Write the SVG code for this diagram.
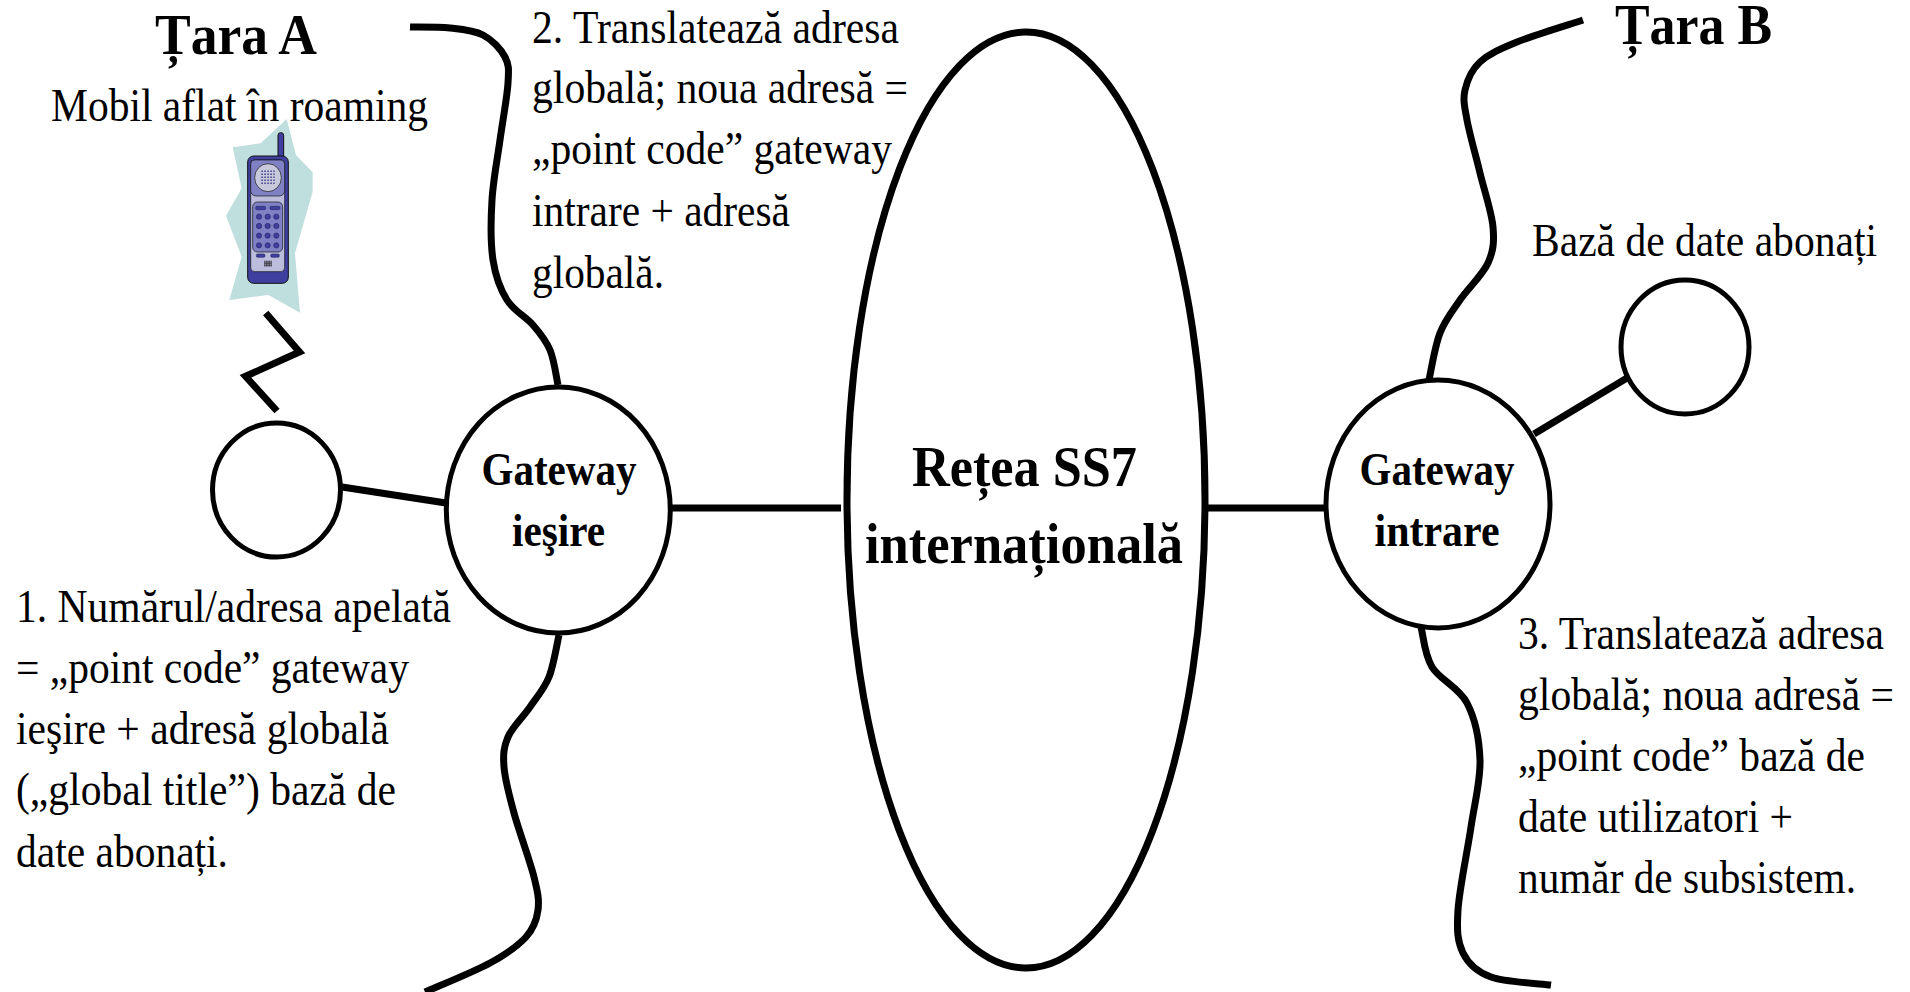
<svg xmlns="http://www.w3.org/2000/svg" width="1910" height="992" viewBox="0 0 1910 992">
<style>
text{font-family:"Liberation Serif","Times New Roman",serif;fill:#000}
.t{font-size:46px}
.h{font-size:58px;font-weight:bold}
.g{font-size:46px;font-weight:bold;text-anchor:middle}
.n{font-size:58px;font-weight:bold;text-anchor:middle}
.s{fill:#fff;stroke:#000;stroke-width:5}
.b{stroke-width:7}
.c{fill:none;stroke:#000;stroke-width:7}
.k{fill:#3f3f9f;stroke:#1a1a50;stroke-width:1.5}
</style>
<rect width="1910" height="992" fill="#fff"/>
<g id="connectors">
<path class="c" d="M342 487L446 503"/>
<path class="c" d="M671 508H841"/>
<path class="c" d="M1204 508H1327"/>
<path class="c" d="M1534 434L1627 378"/>
<path class="c" d="M265.700 313L299.500 352L245.500 376.300L277 411"/>
</g>
<g id="borders">
<path class="c" d="M410 27C416.700 27.200 437.800 26.700 450 28C462.200 29.300 473.800 30.200 483 35C492.200 39.800 500.800 49 505 57C509.200 65 508.800 69.200 508 83C507.200 96.800 502.700 120.500 500 140C497.300 159.500 493.200 180 492 200C490.800 220 490.500 243.300 493 260C495.500 276.700 500.300 289.200 507 300C513.700 310.800 525.800 316.700 533 325C540.200 333.300 545.800 340 550 350C554.200 360 556.700 379.200 558 385"/>
<path class="c" d="M559 635C557.300 642 553.800 665 549 677C544.200 689 536.800 697 530 707C523.200 717 512.300 727 508 737C503.700 747 503 754.300 504 767C505 779.700 509 794.700 514 813C519 831.300 530 860.800 534 877C538 893.200 539.300 900 538 910C536.700 920 534 928.200 526 937C518 945.800 506.800 953.800 490 963C473.200 972.200 435.800 987.200 425 992"/>
<path class="c" d="M1583 20C1572 23.700 1534.200 35 1517 42C1499.800 49 1488.700 54 1480 62C1471.300 70 1467.200 80.300 1465 90C1462.800 99.700 1464.500 106.200 1467 120C1469.500 133.800 1475.700 155.200 1480 173C1484.300 190.800 1491.700 212 1493 227C1494.300 242 1493.500 250.800 1488 263C1482.500 275.200 1468 288.300 1460 300C1452 311.700 1445.200 319.700 1440 333C1434.800 346.300 1430.800 372.200 1429 380"/>
<path class="c" d="M1421 627C1423 634 1424.300 654.300 1432 667C1439.700 679.700 1459 687.500 1467 703C1475 718.500 1479.300 739.300 1480 760C1480.700 780.700 1474.700 802 1471 827C1467.300 852 1459.300 889 1458 910C1456.700 931 1457.500 941.800 1463 953C1468.500 964.200 1476.300 971.700 1491 977C1505.700 982.300 1541 983.700 1551 985"/>
</g>
<g id="net"><ellipse class="s b" cx="1026" cy="500" rx="179" ry="468"/>
<text class="n" x="1024.500" y="486" textLength="225" lengthAdjust="spacingAndGlyphs">Rețea SS7</text>
<text class="n" x="1024" y="563" textLength="318" lengthAdjust="spacingAndGlyphs">internațională</text></g>
<g id="gw-out"><ellipse class="s" cx="558.300" cy="510" rx="112" ry="123"/>
<text class="g" x="559" y="485" textLength="155" lengthAdjust="spacingAndGlyphs">Gateway</text>
<text class="g" x="558.500" y="546" textLength="93" lengthAdjust="spacingAndGlyphs">ieşire</text></g>
<g id="gw-in"><ellipse class="s" cx="1438" cy="504" rx="112" ry="124"/>
<text class="g" x="1437" y="485" textLength="155" lengthAdjust="spacingAndGlyphs">Gateway</text>
<text class="g" x="1437" y="546" textLength="125" lengthAdjust="spacingAndGlyphs">intrare</text></g>
<g id="switch-a"><ellipse class="s" cx="276.500" cy="490" rx="64" ry="67"/></g>
<g id="db"><ellipse class="s" cx="1685" cy="347" rx="64" ry="67"/></g>
<g id="phone" transform="translate(200 100) scale(.3333)">
<polygon fill="#bfdede" points="260,57 288,165 338,217 338,275 285,460 300,638 205,585 88,600 125,470 78,347 125,265 98,142 182,130"/>
<rect x="234" y="98" width="17" height="90" rx="8" fill="#3f3f9f" stroke="#111" stroke-width="3"/>
<rect x="143" y="168" width="122" height="382" rx="18" fill="#3f3f9f" stroke="#111" stroke-width="3"/>
<rect x="152" y="180" width="102" height="335" rx="12" fill="#bcbcdc" stroke="#111" stroke-width="2"/>
<path d="M152 192a12 12 0 0 1 12-12h78a12 12 0 0 1 12 12v80a16 16 0 0 1-16 16h-70a16 16 0 0 1-16-16z" fill="#8080c4" stroke="#111" stroke-width="2"/>
<ellipse cx="204" cy="233" rx="40" ry="42" fill="#c8c8dc" stroke="#111" stroke-width="2"/>
<path d="M184 214h40M184 223h40M184 232h40M184 241h40M184 250h40" stroke="#40408c" stroke-width="4.500" stroke-dasharray="4.500 4.500" fill="none"/>
<rect x="158" y="306" width="90" height="150" rx="14" fill="#8080c4" stroke="#111" stroke-width="2"/>
<rect x="167" y="319" width="30" height="10" rx="4" class="k"/><rect x="210" y="319" width="30" height="10" rx="4" class="k"/>
<circle class="k" cx="177" cy="350" r="8"/><circle class="k" cx="203" cy="350" r="8"/><circle class="k" cx="229" cy="350" r="8"/>
<circle class="k" cx="177" cy="378" r="8"/><circle class="k" cx="203" cy="378" r="8"/><circle class="k" cx="229" cy="378" r="8"/>
<circle class="k" cx="177" cy="407" r="8"/><circle class="k" cx="203" cy="407" r="8"/><circle class="k" cx="229" cy="407" r="8"/>
<circle class="k" cx="177" cy="436" r="8"/><circle class="k" cx="203" cy="436" r="8"/><circle class="k" cx="229" cy="436" r="8"/>
<rect x="169" y="462" width="26" height="10" rx="4" class="k"/><rect x="212" y="462" width="26" height="10" rx="4" class="k"/>
<path d="M194 482v18M199 482v18M204 482v18M209 482v18M214 482v18M194 486h20M194 491h20M194 496h20" stroke="#222" stroke-width="2" fill="none"/>
</g>
<g id="labels">
<text class="h" x="155" y="54" textLength="162" lengthAdjust="spacingAndGlyphs">Țara A</text>
<text class="h" x="1615" y="44" textLength="157" lengthAdjust="spacingAndGlyphs">Țara B</text>
<text class="t" x="51" y="121" textLength="377" lengthAdjust="spacingAndGlyphs">Mobil aflat în roaming</text>
<text class="t" x="532" y="43" textLength="367" lengthAdjust="spacingAndGlyphs">2. Translatează adresa</text>
<text class="t" x="532" y="103" textLength="376" lengthAdjust="spacingAndGlyphs">globală; noua adresă =</text>
<text class="t" x="532" y="164" textLength="360" lengthAdjust="spacingAndGlyphs">„point code” gateway</text>
<text class="t" x="532" y="226" textLength="258" lengthAdjust="spacingAndGlyphs">intrare + adresă</text>
<text class="t" x="532" y="288" textLength="132" lengthAdjust="spacingAndGlyphs">globală.</text>
<text class="t" x="1532" y="256" textLength="345" lengthAdjust="spacingAndGlyphs">Bază de date abonați</text>
<text class="t" x="16" y="622" textLength="435" lengthAdjust="spacingAndGlyphs">1. Numărul/adresa apelată</text>
<text class="t" x="16" y="683" textLength="393" lengthAdjust="spacingAndGlyphs">= „point code” gateway</text>
<text class="t" x="16" y="744" textLength="373" lengthAdjust="spacingAndGlyphs">ieşire + adresă globală</text>
<text class="t" x="16" y="805" textLength="380" lengthAdjust="spacingAndGlyphs">(„global title”) bază de</text>
<text class="t" x="16" y="867" textLength="212" lengthAdjust="spacingAndGlyphs">date abonați.</text>
<text class="t" x="1518" y="649" textLength="366" lengthAdjust="spacingAndGlyphs">3. Translatează adresa</text>
<text class="t" x="1518" y="710" textLength="376" lengthAdjust="spacingAndGlyphs">globală; noua adresă =</text>
<text class="t" x="1518" y="771" textLength="347" lengthAdjust="spacingAndGlyphs">„point code” bază de</text>
<text class="t" x="1518" y="832" textLength="275" lengthAdjust="spacingAndGlyphs">date utilizatori +</text>
<text class="t" x="1518" y="893" textLength="338" lengthAdjust="spacingAndGlyphs">număr de subsistem.</text>
</g>
</svg>
